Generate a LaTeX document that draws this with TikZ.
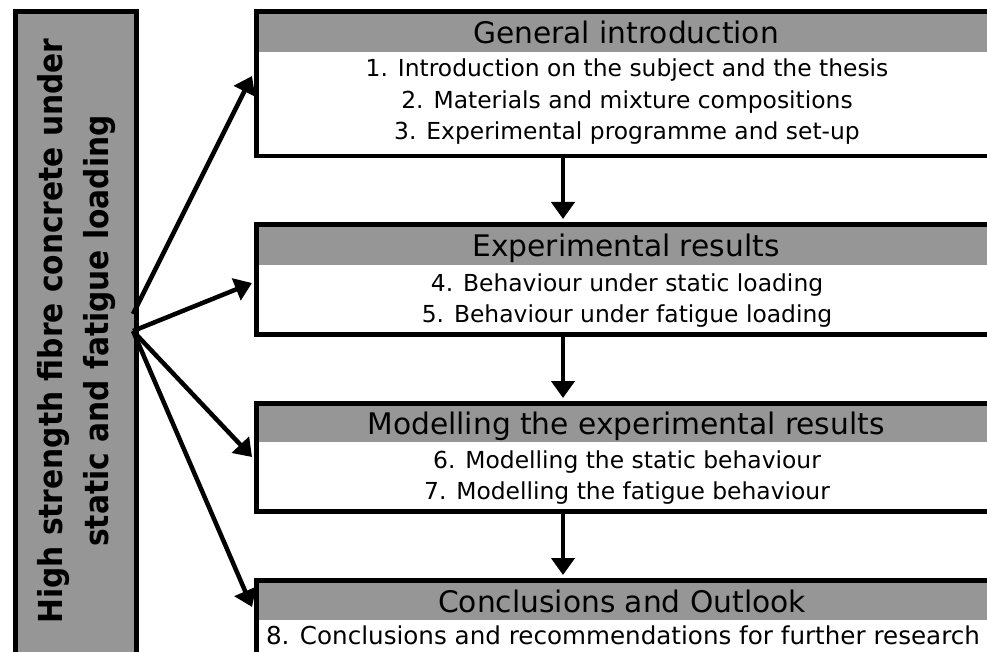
\documentclass[tikz,border=0pt]{standalone}
\usepackage{fontspec}
\setmainfont{DejaVu Sans}
\newfontfamily\condf{DejaVu Sans Condensed}
\usetikzlibrary{arrows.meta}
\definecolor{hdrgray}{RGB}{150,150,150}
\tikzset{
  frame/.style={draw=black, line width=4.5pt, fill=none, inner sep=0pt, anchor=north west},
  band/.style={fill=hdrgray, draw=none, inner sep=0pt, anchor=north west},
  hdrtext/.style={font=\fontsize{29.7}{36}\selectfont, anchor=base, inner sep=0pt},
  bodytext/.style={font=\fontsize{23.4}{28}\selectfont, anchor=base, inner sep=0pt},
  conn/.style={line width=4.5pt, -{Triangle[length=17pt,width=23pt]}},
}
\begin{document}
\begin{tikzpicture}[x=1pt,y=1pt]
\useasboundingbox (0,0) rectangle (987,-652);
\clip (0,0) rectangle (987,-652);
% side box
\node[band, minimum width=121pt, minimum height=700pt] (sidefill) at (13,-9.5) {};
\node[frame, minimum width=121pt, minimum height=700pt] (side) at (13,-9.5) {};
\node[rotate=90, align=center, inner sep=0pt, font=\condf\fontsize{33}{46}\selectfont\bfseries] (title) at (77,-331) {High strength fibre concrete under\\static and fatigue loading};
% box 1
\node[band, minimum width=760pt, minimum height=42.5pt] (hdr1) at (254,-9.5) {};
\node[frame, minimum width=760pt, minimum height=144.5pt] (box1) at (254,-9.5) {};
\node[hdrtext] (h1) at (626,-43.5) {General introduction};
\node[bodytext] (l1) at (627,-77) {1. Introduction on the subject and the thesis};
\node[bodytext] (l2) at (627,-108.5) {2. Materials and mixture compositions};
\node[bodytext] (l3) at (627,-140) {3. Experimental programme and set-up};
% box 2
\node[band, minimum width=760pt, minimum height=42.5pt] (hdr2) at (254,-222.5) {};
\node[frame, minimum width=760pt, minimum height=109.5pt] (box2) at (254,-222.5) {};
\node[hdrtext] (h2) at (626,-256.5) {Experimental results};
\node[bodytext] (l4) at (627,-291) {4. Behaviour under static loading};
\node[bodytext] (l5) at (627,-322) {5. Behaviour under fatigue loading};
% box 3
\node[band, minimum width=760pt, minimum height=41pt] (hdr3) at (254,-401) {};
\node[frame, minimum width=760pt, minimum height=108pt] (box3) at (254,-401) {};
\node[hdrtext] (h3) at (626,-434.5) {Modelling the experimental results};
\node[bodytext] (l6) at (627,-468) {6. Modelling the static behaviour};
\node[bodytext] (l7) at (627,-499) {7. Modelling the fatigue behaviour};
% box 4
\node[band, minimum width=760pt, minimum height=42pt] (hdr4) at (254,-578) {};
\node[frame, minimum width=760pt, minimum height=120pt] (box4) at (254,-578) {};
\node[hdrtext] (h4) at (622,-612) {Conclusions and Outlook};
\node[bodytext, font=\fontsize{24.6}{30}\selectfont] (l8) at (623,-644.5) {8. Conclusions and recommendations for further research};
% connector endpoints
\coordinate (s1) at (133,-314);
\coordinate (s0) at (133,-331);
\coordinate (t1) at (252,-76);
\coordinate (t2) at (252,-283);
\coordinate (t3) at (252,-457);
\coordinate (t4) at (252,-607);
\coordinate (d1a) at (563,-156);
\coordinate (d1b) at (563,-219);
\coordinate (d2a) at (563,-334);
\coordinate (d2b) at (563,-398);
\coordinate (d3a) at (563,-511);
\coordinate (d3b) at (563,-575);
% connectors
\draw[conn] (s1) -- (t1);
\draw[conn] (s0) -- (t2);
\draw[conn] (s0) -- (t3);
\draw[conn] (s0) -- (t4);
\draw[conn] (d1a) -- (d1b);
\draw[conn] (d2a) -- (d2b);
\draw[conn] (d3a) -- (d3b);
\end{tikzpicture}
\end{document}
